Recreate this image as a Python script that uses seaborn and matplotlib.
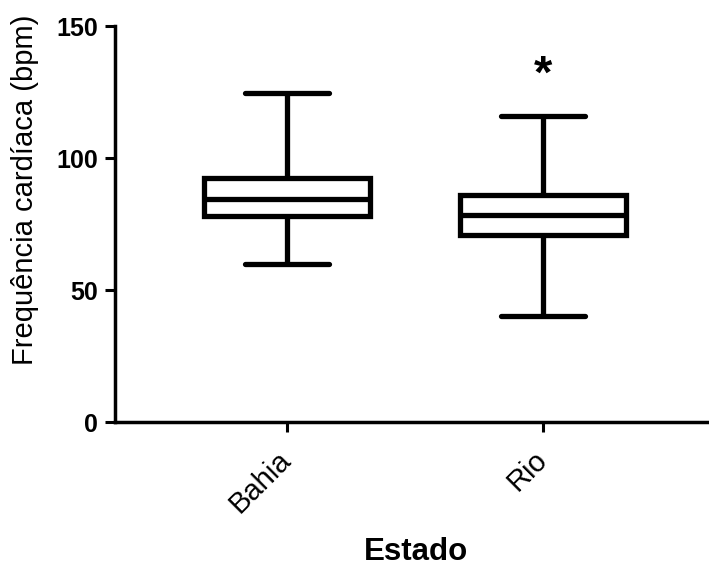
import matplotlib
matplotlib.use("Agg")
import matplotlib.pyplot as plt
import matplotlib.transforms as mtrans
import seaborn as sns
import pandas as pd

# Five-number summaries (min, Q1, median, Q3, max)
estados = ["Bahia", "Rio"]
bahia_vals = [60, 78, 84.5, 92.5, 124.5]
rio_vals = [40, 71, 78.5, 86, 116]
yticks = [0, 50, 100, 150]
ylabel = "Frequência cardíaca (bpm)"
xlabel = "Estado"
signif = "*"

sns.set_theme(style="ticks")
plt.rcParams["font.family"] = ["Liberation Sans", "DejaVu Sans"]
plt.rcParams["text.color"] = "black"
plt.rcParams["axes.labelcolor"] = "black"
plt.rcParams["xtick.color"] = "black"
plt.rcParams["ytick.color"] = "black"

df = pd.DataFrame({
    "Estado": [estados[0]] * len(bahia_vals) + [estados[1]] * len(rio_vals),
    "FC": bahia_vals + rio_vals,
})

fig = plt.figure(figsize=(7.09, 5.68), dpi=100)
ax = fig.add_axes([115 / 709, 1 - 422 / 568, 594 / 709, 396 / 568])

sns.boxplot(data=df, x="Estado", y="FC", order=estados, ax=ax,
            whis=(0, 100), width=0.65, color="white", linecolor="black",
            linewidth=3.8, fliersize=0)

ax.set_ylim(0, 150)
ax.set_xlim(-0.672, 1.648)
ax.set_yticks(yticks)
ax.set_yticklabels([str(v) for v in yticks], fontsize=18, fontweight="bold")
ax.set_xticks(range(len(estados)))
ax.set_xticklabels(estados, fontsize=21, rotation=45, ha="right",
                   va="center", rotation_mode="anchor")
shift = mtrans.ScaledTranslation(4 / 100, 0, fig.dpi_scale_trans)
for lab in ax.get_xticklabels():
    lab.set_transform(lab.get_transform() + shift)

for side in ["top", "right"]:
    ax.spines[side].set_visible(False)
for side in ["left", "bottom"]:
    ax.spines[side].set_linewidth(2.5)
    ax.spines[side].set_color("black")
ax.tick_params(axis="both", length=7, width=2.2, color="black",
               labelcolor="black")
ax.tick_params(axis="y", pad=5)
ax.tick_params(axis="x", pad=17)

ax.set_ylabel(ylabel, fontsize=21)
ax.yaxis.label.set_va("center")
ax.yaxis.set_label_coords(-0.152, 0.586)
ax.set_xlabel(xlabel, fontsize=22.5, fontweight="bold")
ax.xaxis.label.set_va("center")
ax.xaxis.set_label_coords(0.507, -0.328)

ax.text(1, 131, signif, ha="center", va="center", fontsize=34,
        fontweight="bold", color="black")

fig.savefig("out.png", dpi=100)
